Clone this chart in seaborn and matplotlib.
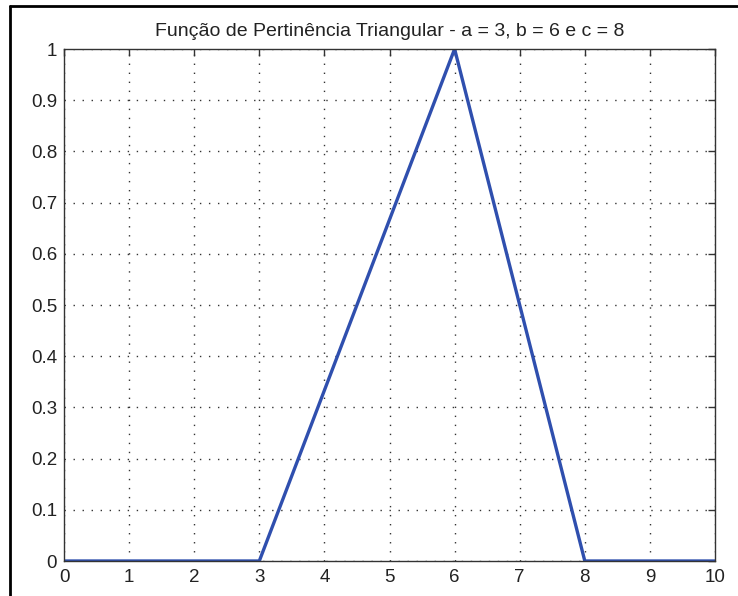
import matplotlib
matplotlib.use("Agg")
import matplotlib.pyplot as plt
from matplotlib.lines import Line2D
import seaborn as sns
import pandas as pd

# Triangular membership function parameters and its vertices
a, b, c = 3, 6, 8
x_vals = [0, a, b, c, 10]
mu_vals = [0, 0, 1, 0, 0]
x_ticks = list(range(0, 11))
y_ticks = [0, 0.1, 0.2, 0.3, 0.4, 0.5, 0.6, 0.7, 0.8, 0.9, 1]
y_tick_labels = ["0", "0.1", "0.2", "0.3", "0.4", "0.5", "0.6", "0.7", "0.8", "0.9", "1"]
title = "Função de Pertinência Triangular - a = 3, b = 6 e c = 8"

sns.set_theme(style="white")
plt.rcParams["font.family"] = ["Liberation Sans", "DejaVu Sans"]

df = pd.DataFrame({"x": x_vals, "mu": mu_vals})

fig = plt.figure(figsize=(7.38, 5.96), dpi=100, facecolor="white")
ax = fig.add_axes([64 / 738, 35 / 596, (715 - 64) / 738, (561 - 49) / 596])

sns.lineplot(data=df, x="x", y="mu", ax=ax, color="#2f4fae", linewidth=2.4,
             estimator=None, sort=False)

ax.set_xlim(0, 10)
ax.set_ylim(0, 1)
ax.set_xticks(x_ticks)
ax.set_xticklabels([str(t) for t in x_ticks])
ax.set_yticks(y_ticks)
ax.set_yticklabels(y_tick_labels)
ax.set_xlabel("")
ax.set_ylabel("")
ax.grid(True, linestyle=(0, (1, 5.5)), color="#333333", linewidth=1.0)
ax.tick_params(direction="in", length=5, width=1, color="#333333",
               top=True, right=True, labelsize=13.5, labelcolor="#222222")
ax.tick_params(axis="x", pad=6)
ax.tick_params(axis="y", pad=5)
for s in ax.spines.values():
    s.set_color("#333333")
    s.set_linewidth(1.0)
    s.set_visible(True)

ax.set_title(title, fontsize=14, color="#222222", pad=9)

# Outer frame lines
fig.add_artist(Line2D([10 / 738, 10 / 738], [0, 1 - 6 / 596], transform=fig.transFigure,
                      color="black", linewidth=2))
fig.add_artist(Line2D([10 / 738, 1], [1 - 6 / 596, 1 - 6 / 596], transform=fig.transFigure,
                      color="black", linewidth=2))

fig.savefig("out.png", dpi=100, facecolor="white")
